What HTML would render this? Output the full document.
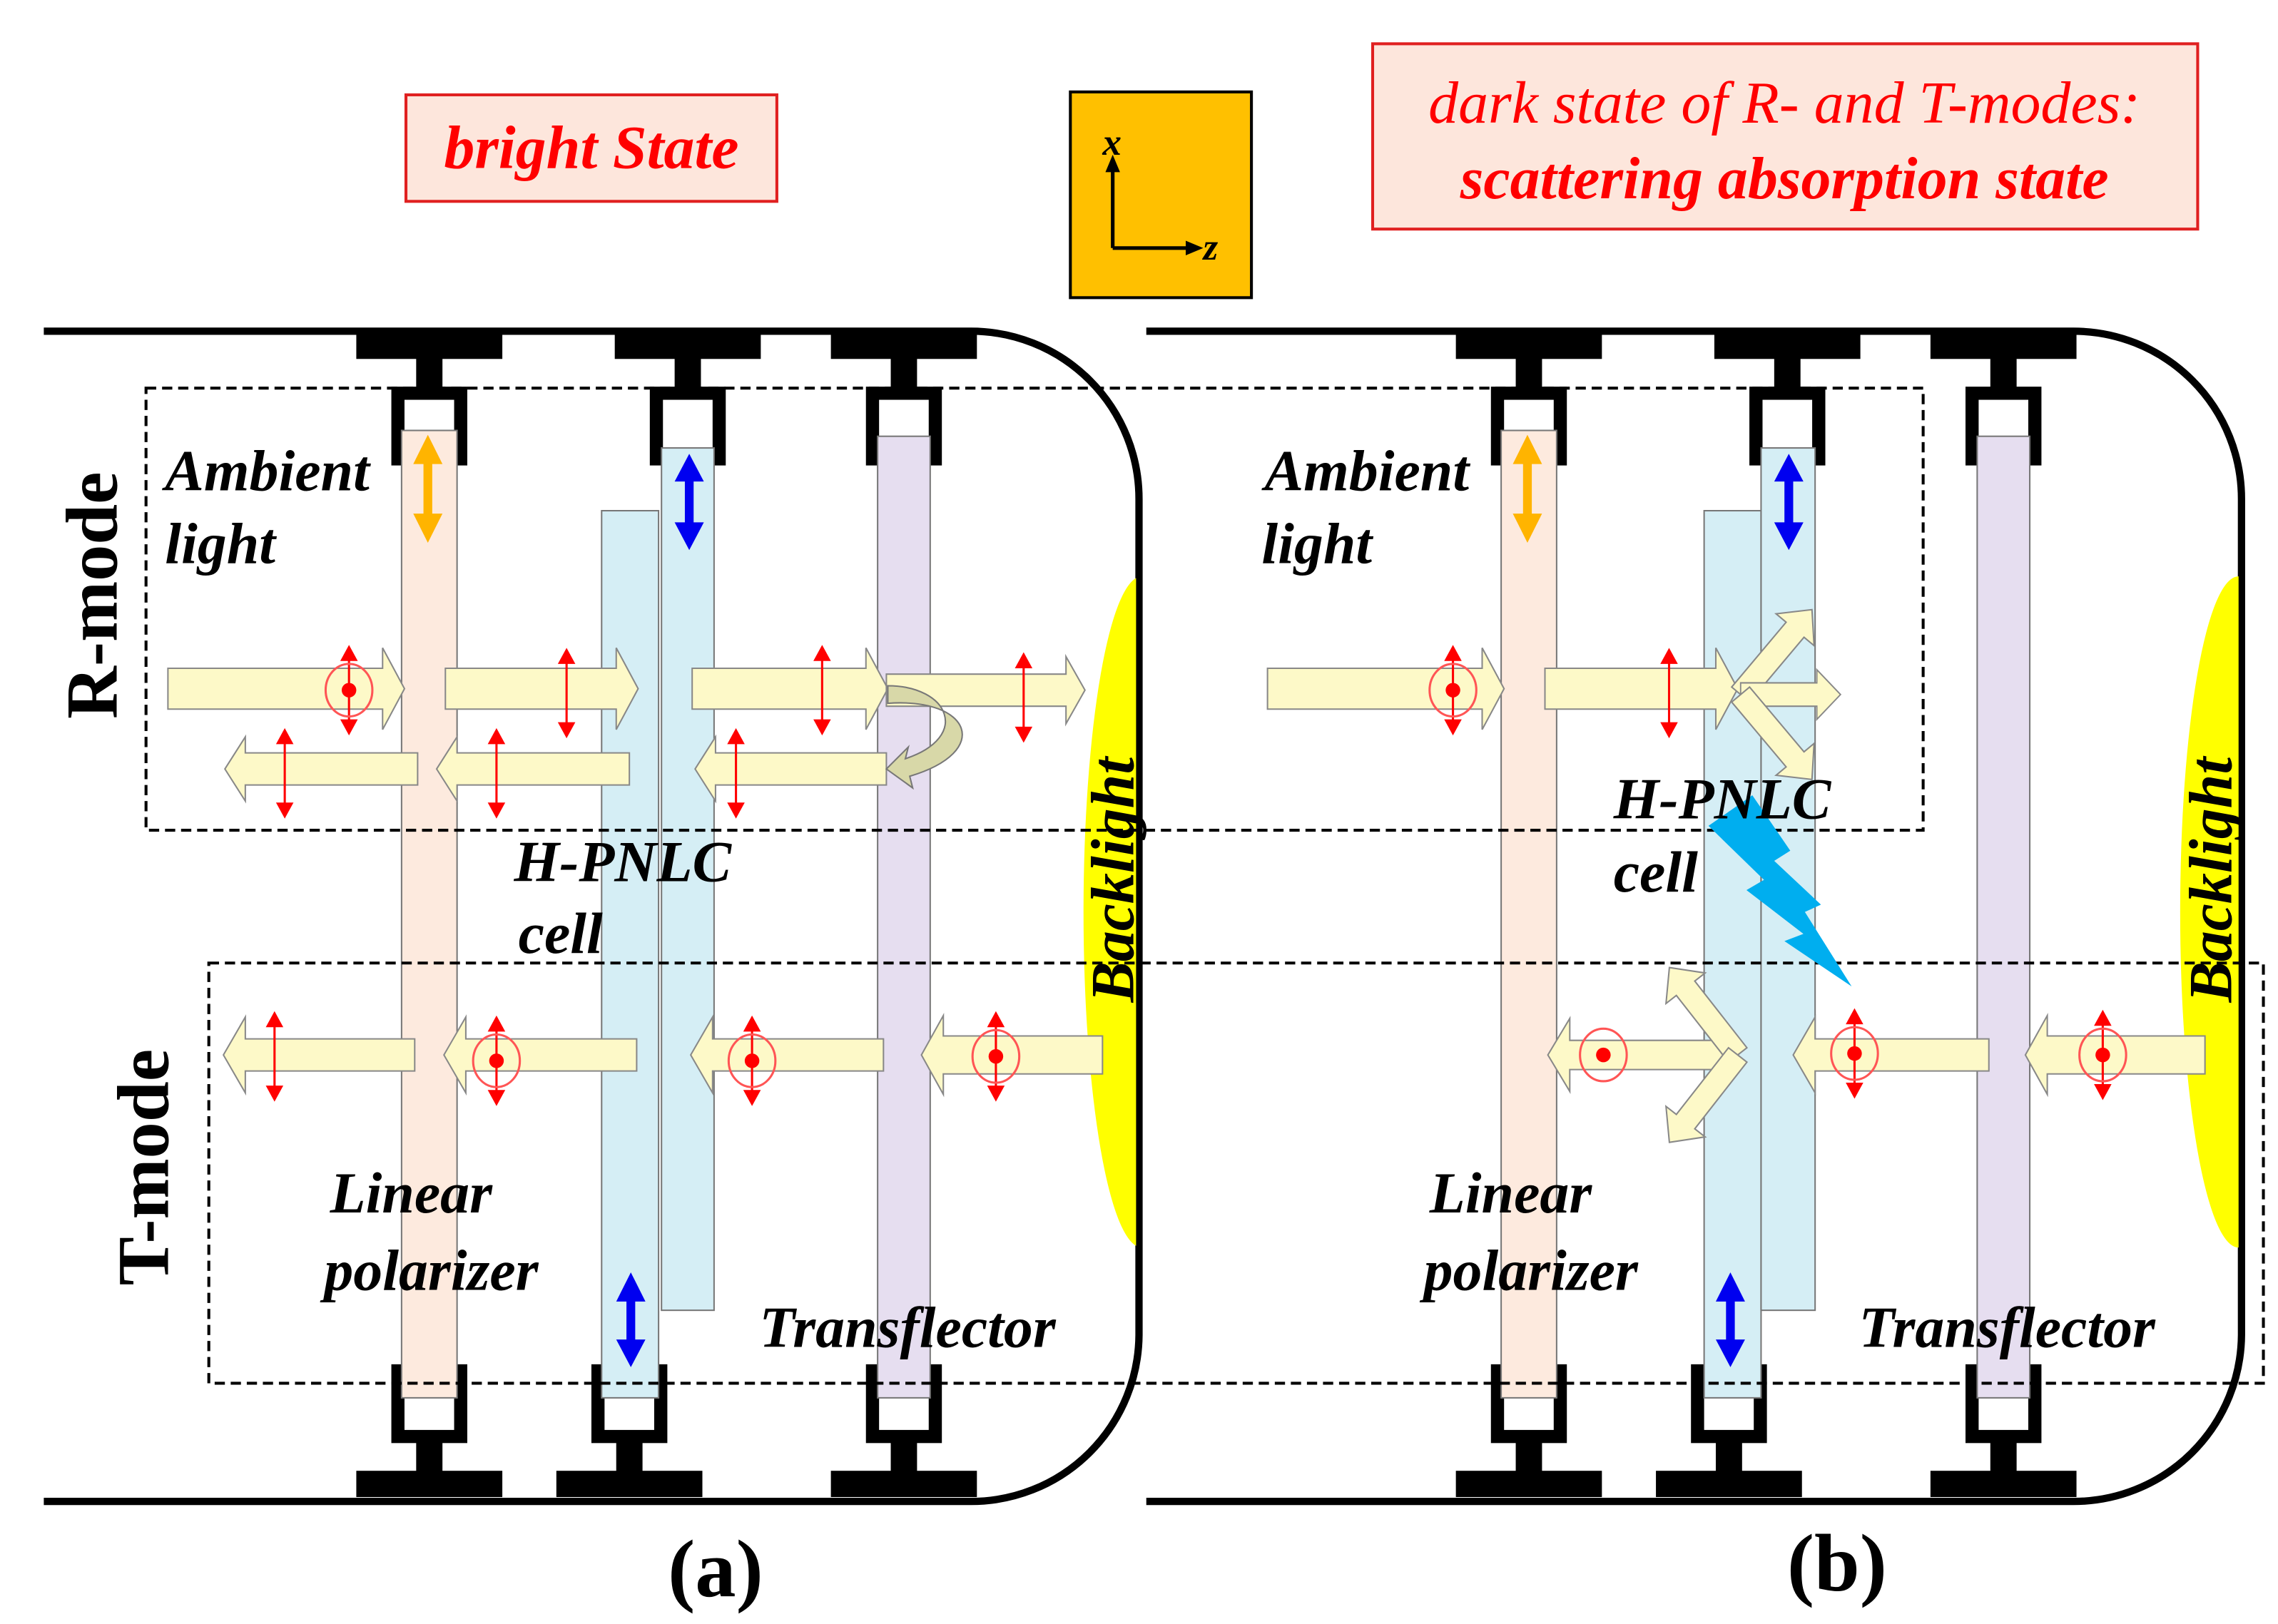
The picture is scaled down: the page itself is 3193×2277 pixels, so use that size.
<!DOCTYPE html>
<html><head><meta charset="utf-8"><style>
html,body{margin:0;padding:0;background:#fff;}
svg{display:block;}
text{font-family:"Liberation Serif",serif;}
</style></head><body>
<svg width="3193" height="2277" viewBox="0 0 1560 1113" preserveAspectRatio="none" xmlns="http://www.w3.org/2000/svg">
<defs>
<g id="pv"><line x1="0" y1="-22" x2="0" y2="22" stroke="#f00" stroke-width="1.5"/><polygon points="-6,-20 6,-20 0,-31" fill="#f00"/><polygon points="-6,20 6,20 0,31" fill="#f00"/></g>
<g id="pc"><use href="#pv"/><ellipse cx="0" cy="0" rx="16" ry="18" fill="none" stroke="#f55" stroke-width="1.5"/><circle cx="0" cy="0" r="5" fill="#f00"/></g>
<g id="ct"><rect x="-50" y="228" width="100" height="18" fill="#000"/><rect x="-9" y="245" width="18" height="21" fill="#000"/><rect x="-26" y="265" width="52" height="54" fill="#000"/><rect x="-17" y="274" width="34" height="46" fill="#fff"/></g>
<g id="cb" transform="translate(0,1254) scale(1,-1)"><use href="#ct"/></g>
<polygon id="sa" points="0,-8 58,-8 58,-17 76,0 58,17 58,8 0,8" fill="#fdf9c8" stroke="#888" stroke-width="1"/>
</defs>

<!-- titles -->
<rect x="278" y="65" width="254" height="73" fill="#fde6dc" stroke="#e02020" stroke-width="2"/>
<text x="405" y="115" text-anchor="middle" font-size="42" font-weight="bold" font-style="italic" fill="#f00">bright State</text>
<rect x="940" y="30" width="565" height="127" fill="#fde6dc" stroke="#e02020" stroke-width="2"/>
<text x="1222" y="84" text-anchor="middle" font-size="41" font-style="italic" fill="#f00">dark state of R- and T-modes:</text>
<text x="1222" y="136" text-anchor="middle" font-size="41" font-weight="bold" font-style="italic" fill="#f00">scattering absorption state</text>
<rect x="733" y="63" width="124" height="141" fill="#ffc000" stroke="#000" stroke-width="2"/>
<line x1="762" y1="170" x2="762" y2="115" stroke="#000" stroke-width="2.5"/><polygon points="757,118 767,118 762,106" fill="#000"/>
<line x1="762" y1="170" x2="815" y2="170" stroke="#000" stroke-width="2.5"/><polygon points="812,165 812,175 824,170" fill="#000"/>
<text x="755" y="106" font-size="26" font-style="italic" font-weight="bold">x</text>
<text x="824" y="178" font-size="26" font-style="italic" font-weight="bold">z</text>

<!-- frames -->
<path d="M30,227 H665 A115,115 0 0 1 780,342 V915 A115,115 0 0 1 665,1029 H30" fill="none" stroke="#000" stroke-width="5"/>
<path d="M785,227 H1420 A115,115 0 0 1 1535,342 V915 A115,115 0 0 1 1420,1029 H785" fill="none" stroke="#000" stroke-width="5"/>

<!-- backlights -->
<clipPath id="cl1"><rect x="700" y="300" width="78" height="700"/></clipPath>
<clipPath id="cl2"><rect x="1450" y="300" width="83" height="700"/></clipPath>
<ellipse cx="782" cy="625" rx="40" ry="230" fill="#ffff00" clip-path="url(#cl1)"/>
<ellipse cx="1533" cy="625" rx="40" ry="230" fill="#ffff00" clip-path="url(#cl2)"/>

<!-- clamps -->
<use href="#ct" x="294"/><use href="#ct" x="471"/><use href="#ct" x="619"/>
<use href="#cb" x="294"/><use href="#cb" x="431"/><use href="#cb" x="619"/>
<use href="#ct" x="1047"/><use href="#ct" x="1224"/><use href="#ct" x="1372"/>
<use href="#cb" x="1047"/><use href="#cb" x="1184"/><use href="#cb" x="1372"/>

<!-- layers left -->
<rect x="275" y="295" width="38" height="663" fill="#fdeade" stroke="#777"/>
<rect x="412" y="350" width="39" height="608" fill="#d5eef5" stroke="#777"/>
<rect x="453" y="307" width="36" height="591" fill="#d5eef5" stroke="#777"/>
<rect x="601" y="299" width="36" height="659" fill="#e6def0" stroke="#777"/>
<!-- layers right -->
<rect x="1028" y="295" width="38" height="663" fill="#fdeade" stroke="#777"/>
<rect x="1167" y="350" width="39" height="608" fill="#d5eef5" stroke="#777"/>
<rect x="1206" y="307" width="37" height="591" fill="#d5eef5" stroke="#777"/>
<rect x="1354" y="299" width="36" height="659" fill="#e6def0" stroke="#777"/>

<!-- dashed boxes -->
<rect x="100" y="266" width="1217" height="303" fill="none" stroke="#000" stroke-width="2" stroke-dasharray="7,4"/>
<rect x="143" y="660" width="1407" height="288" fill="none" stroke="#000" stroke-width="2" stroke-dasharray="7,4"/>

<!-- axis arrows on layers -->
<g fill="#ffb400"><rect x="290" y="312" width="6" height="44"/><polygon points="283,318 303,318 293,298"/><polygon points="283,352 303,352 293,372"/></g>
<g fill="#ffb400"><rect x="1043" y="312" width="6" height="44"/><polygon points="1036,318 1056,318 1046,298"/><polygon points="1036,352 1056,352 1046,372"/></g>
<g fill="#0000f0"><rect x="469" y="326" width="6" height="36"/><polygon points="462,330 482,330 472,311"/><polygon points="462,358 482,358 472,377"/></g>
<g fill="#0000f0"><rect x="1222" y="326" width="6" height="36"/><polygon points="1215,330 1235,330 1225,311"/><polygon points="1215,358 1235,358 1225,377"/></g>
<g fill="#0000f0"><rect x="429" y="888" width="6" height="34"/><polygon points="422,892 442,892 432,872"/><polygon points="422,918 442,918 432,937"/></g>
<g fill="#0000f0"><rect x="1182" y="888" width="6" height="34"/><polygon points="1175,892 1195,892 1185,872"/><polygon points="1175,918 1195,918 1185,937"/></g>

<g fill="#fdf9c8" stroke="#888" stroke-width="1">
<polygon points="115,458 262,458 262,444 277,472 262,500 262,486 115,486"/>
<polygon points="305,458 422,458 422,444 437,472 422,500 422,486 305,486"/>
<polygon points="474,458 593,458 593,444 608,472 593,500 593,486 474,486"/>
<polygon points="607,462 730,462 730,450 743,473 730,496 730,484 607,484"/>
<polygon points="286,516 168,516 168,505 154,527 168,549 168,538 286,538"/>
<polygon points="431,516 313,516 313,505 299,527 313,549 313,538 431,538"/>
<polygon points="607,516 490,516 490,505 476,527 490,549 490,538 607,538"/>
<polygon points="284,712 168,712 168,697 153,723 168,749 168,734 284,734"/>
<polygon points="436,712 319,712 319,697 304,723 319,749 319,734 436,734"/>
<polygon points="605,712 488,712 488,697 473,723 488,749 488,734 605,734"/>
<polygon points="755,710 646,710 646,696 631,723 646,750 646,736 755,736"/>
<polygon points="868,458 1015,458 1015,444 1030,472 1015,500 1015,486 868,486"/>
<polygon points="1058,458 1175,458 1175,444 1190,472 1175,500 1175,486 1058,486"/>
<polygon points="1510,710 1402,710 1402,696 1387,723 1402,750 1402,736 1510,736"/>
<polygon points="1362,712 1243,712 1243,697 1228,723 1243,749 1243,734 1362,734"/>
<polygon points="1190,713 1075,713 1075,698 1060,723 1075,748 1075,733 1190,733"/>
</g>
<use href="#sa" transform="translate(1192,476) rotate(-50)"/>
<use href="#sa" transform="translate(1192,476) scale(0.9,1)"/>
<use href="#sa" transform="translate(1192,476) rotate(50)"/>
<use href="#sa" transform="translate(1190,723) rotate(-128)"/>
<use href="#sa" transform="translate(1190,723) rotate(128)"/>

<!-- curved reflection arrow -->
<path d="M608,470 C650,470 665,505 620,520 L622,512 L607,527 L625,540 L623,532 C680,515 665,478 608,482 Z" fill="#d8d8a8" stroke="#777" stroke-width="1"/>

<!-- lightning -->
<polygon points="1170,566 1208,603 1196,610 1235,640 1222,645 1268,676 1236,625 1247,620 1215,590 1226,583 1200,545" fill="#00aeef"/>

<!-- polarization marks -->
<use href="#pc" x="239" y="473"/><use href="#pv" x="388" y="475"/><use href="#pv" x="563" y="473"/><use href="#pv" x="701" y="478"/>
<use href="#pv" x="195" y="530"/><use href="#pv" x="340" y="530"/><use href="#pv" x="504" y="530"/>
<use href="#pv" x="188" y="724"/><use href="#pc" x="340" y="727"/><use href="#pc" x="515" y="727"/><use href="#pc" x="682" y="724"/>
<use href="#pc" x="995" y="473"/><use href="#pv" x="1143" y="475"/>
<use href="#pc" x="1270" y="722"/><use href="#pc" x="1440" y="723"/>
<ellipse cx="1098" cy="723" rx="16" ry="18" fill="none" stroke="#f55" stroke-width="1.5"/><circle cx="1098" cy="723" r="5" fill="#f00"/>

<!-- labels -->
<g font-weight="bold" font-style="italic" font-size="40">
<text x="113" y="336">Ambient</text><text x="113" y="386">light</text>
<text x="866" y="336">Ambient</text><text x="864" y="386">light</text>
<text x="352" y="604">H-PNLC</text><text x="355" y="653">cell</text>
<text x="1105" y="561">H-PNLC</text><text x="1105" y="611">cell</text>
<text x="226" y="831">Linear</text><text x="222" y="884">polarizer</text>
<text x="979" y="831">Linear</text><text x="975" y="884">polarizer</text>
<text x="520" y="923">Transflector</text><text x="1273" y="923">Transflector</text>
<text transform="translate(776,603) rotate(-90)" text-anchor="middle" font-size="42">Backlight</text>
<text transform="translate(1528,603) rotate(-90)" text-anchor="middle" font-size="42">Backlight</text>
</g>
<g font-weight="bold" font-size="50">
<text transform="translate(80,408) rotate(-90)" text-anchor="middle">R-mode</text>
<text transform="translate(115,800) rotate(-90)" text-anchor="middle">T-mode</text>
</g>
<text x="490" y="1094" text-anchor="middle" font-size="56" font-weight="bold">(a)</text>
<text x="1258" y="1090" text-anchor="middle" font-size="56" font-weight="bold">(b)</text>
</svg>
</body></html>
